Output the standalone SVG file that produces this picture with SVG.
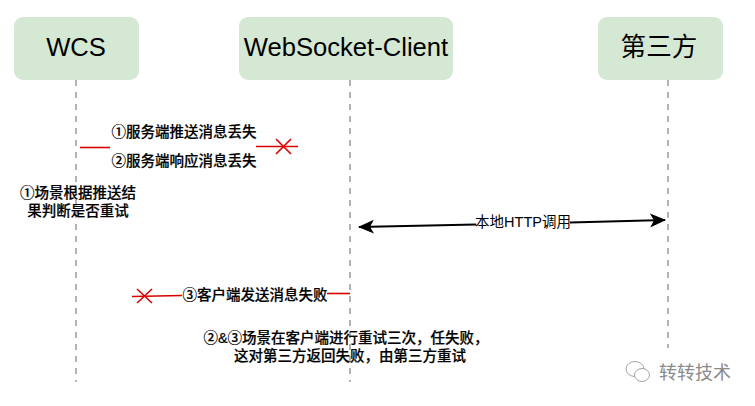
<svg xmlns="http://www.w3.org/2000/svg" width="755" height="406" viewBox="0 0 755 406">
<style>
text{font-family:"Liberation Sans","Noto Sans CJK SC",sans-serif;fill:#000;text-anchor:middle}
.box{fill:#d5e8d4}
.nt{font-size:25.600px}
.life{stroke:#b3b3b3;stroke-width:2;stroke-dasharray:6 6;fill:none}
.red{stroke:#d90000;stroke-width:1.600;fill:none}
.lb{font-size:14.500px;font-weight:500;stroke:#000;stroke-width:.2}
.wm{font-size:18px;fill:#8a8a8a;text-anchor:start}
.wi{fill:#fff;stroke:#999;stroke-width:.9}
</style>
<defs>
<marker id="ah" viewBox="0 0 16 16" refX="15" refY="8" markerWidth="16" markerHeight="16" markerUnits="userSpaceOnUse" orient="auto-start-reverse"><path d="M0 1L16 8L0 15L4 8Z" fill="#000"/></marker>
</defs>
<rect width="755" height="406" fill="#fff"/>
<g id="lifelines">
<path class="life" d="M76 80V382"/>
<path class="life" d="M350 80V382"/>
<path class="life" d="M668 80V348"/>
</g>
<g id="node-wcs"><rect class="box" x="14" y="17" width="125" height="63" rx="9"/><text class="nt" x="76" y="56">WCS</text></g>
<g id="node-client"><rect class="box" x="239" y="17" width="214" height="63" rx="9"/><text class="nt" x="346" y="56">WebSocket-Client</text></g>
<g id="node-third"><rect class="box" x="598" y="17" width="125" height="63" rx="9"/><text class="nt" x="659" y="56">第三方</text></g>
<g id="connectors">
<path class="red" d="M80 147.500H110"/>
<path class="red" d="M256 146.500H298"/>
<path class="red" d="M276 139L291 154M291 139L276 154"/>
<path class="red" d="M132 296.500L182 295.500"/>
<path class="red" d="M137 289L152 303M152 289L137 303"/>
<path class="red" d="M327 293.500H350"/>
<path d="M359 227L476 224.500M570 222.500L665 220" stroke="#000" stroke-width="1.800" fill="none" marker-start="url(#ah)" marker-end="url(#ah)"/>
</g>
<g id="labels">
<text class="lb" x="184" y="137">①服务端推送消息丢失</text>
<text class="lb" x="184" y="166">②服务端响应消息丢失</text>
<text class="lb" x="78" y="198">①场景根据推送结</text>
<text class="lb" x="78" y="216">果判断是否重试</text>
<text x="523" y="227" font-size="14.500">本地HTTP调用</text>
<text class="lb" x="255" y="300">③客户端发送消息失败</text>
<text class="lb" x="346" y="343">②&amp;③场景在客户端进行重试三次，任失败，</text>
<text class="lb" x="350" y="361">这对第三方返回失败，由第三方重试</text>
</g>
<g id="watermark">
<ellipse class="wi" cx="635" cy="369" rx="9" ry="7.500"/>
<ellipse class="wi" cx="642" cy="375" rx="7.500" ry="6.500"/>
<text class="wm" x="659" y="379">转转技术</text>
</g>
</svg>
